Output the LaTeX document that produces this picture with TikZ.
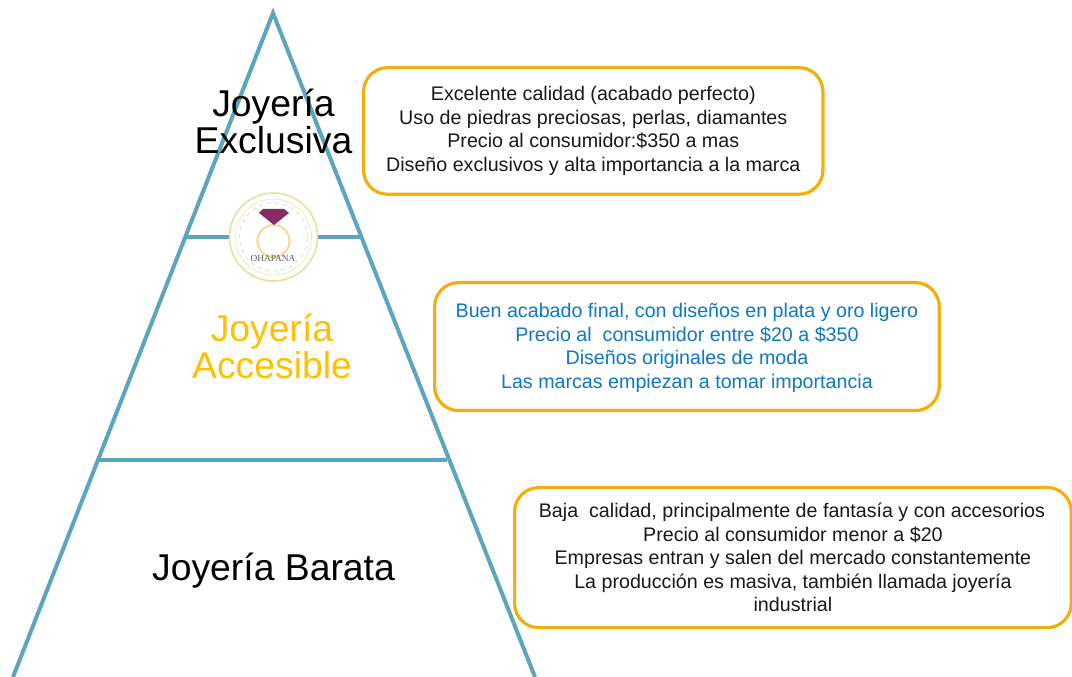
\documentclass[tikz,border=0pt]{standalone}
\usepackage{fontspec}
\setmainfont{Liberation Sans}
\newfontfamily\logofont{Liberation Serif}
\definecolor{teal}{HTML}{5BA6BD}
\definecolor{amber}{HTML}{F2AE0C}
\definecolor{bluetxt}{HTML}{0B78C8}
\definecolor{goldtxt}{HTML}{FFC000}
\definecolor{ringc}{HTML}{F0DC9C}
\definecolor{gem}{HTML}{8A2A62}
\tikzset{
  x=0.75pt,y=-0.75pt,
  edge/.style={draw=teal,line width=3pt},
  infobox/.style={draw=amber,line width=2.4pt,rounded corners=18pt,fill=white,align=center,anchor=north west,inner sep=0pt,font=\fontsize{14.75}{17.6}\selectfont,text=black!90},
  title/.style={align=center,font=\fontsize{28}{28}\selectfont}
}
\begin{document}
\begin{tikzpicture}
\useasboundingbox (0,0) rectangle (1072,677);
\clip (0,0) rectangle (1072,677);
\coordinate (apex) at (273,13);
\coordinate (bl) at (13,677);
\coordinate (br) at (535,677);
\coordinate (ml) at (186,237);
\coordinate (mr) at (361,237);
\coordinate (ll) at (98,460);
\coordinate (lr) at (447,460);
\draw[edge] (bl) -- (apex) -- (br);
\draw[edge] (ll) -- (lr);
\node[circle,minimum size=66pt,inner sep=0pt,draw=ringc,line width=1.2pt,fill=white] (logo) at (273.5,237) {};
\draw[edge] (ml) -- (logo);
\draw[edge] (logo) -- (mr);
\node[circle,minimum size=57pt,inner sep=0pt,draw=ringc!70,line width=.6pt] (logoin) at (273.5,237) {};
\node[circle,minimum size=51pt,inner sep=0pt,draw=black!12,line width=.8pt,dashed] (logodeco) at (273.5,237) {};
\node[circle,minimum size=24pt,inner sep=0pt,draw=ringc,line width=1.6pt] (logoring) at (273.5,241) {};
\fill[gem] (259,213) -- (263,209) -- (284,209) -- (289,213) -- (274,225) -- cycle;
\node[font=\logofont\fontsize{7}{7}\selectfont,text=black!65,inner sep=0pt] (logotxt) at (273,258) {OHAPANA};

\node[title] (t1) at (273.5,121.5) {Joyería\\Exclusiva};
\node[title,text=goldtxt] (t2) at (272,346.5) {Joyería\\Accesible};
\node[title] (t3) at (273.5,571) {Joyería Barata};

\node[infobox,minimum width=344.5pt,minimum height=95pt] (b1) at (362,66) {Excelente calidad (acabado perfecto)\\Uso de piedras preciosas, perlas, diamantes\\Precio al consumidor:\$350 a mas\\Diseño exclusivos y alta importancia a la marca};
\node[infobox,minimum width=378.5pt,minimum height=96pt,text=bluetxt] (b2) at (433,281) {\rule{0pt}{12.5pt}Buen acabado final, con diseños en plata y oro ligero\\Precio al\ \ consumidor entre \$20 a \$350\\Diseños originales de moda\\Las marcas empiezan a tomar importancia};
\node[infobox,minimum width=417.5pt,minimum height=105pt] (b3) at (513,486) {\hspace{-1.5pt}Baja\ \ calidad, principalmente de fantasía y con accesorios\\Precio al consumidor menor a \$20\\Empresas entran y salen del mercado constantemente\\La producción es masiva, también llamada joyería\\industrial};
\end{tikzpicture}
\end{document}
